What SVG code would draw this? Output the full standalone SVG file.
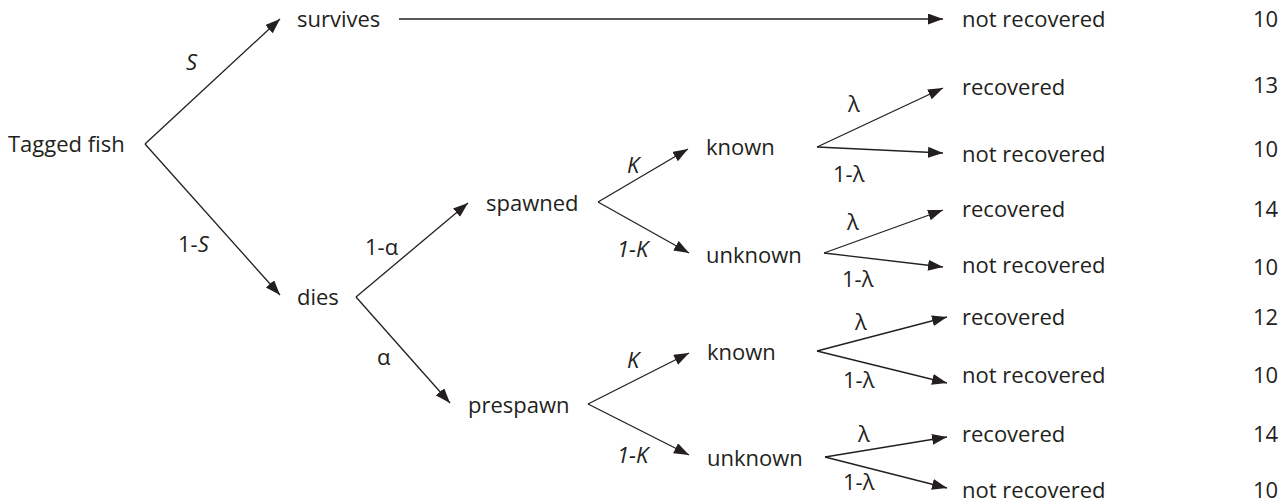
<svg xmlns="http://www.w3.org/2000/svg" width="1283" height="504" viewBox="0 0 1283 504">
<style>
text{font-family:"Open Sans","Noto Sans",sans-serif;font-size:22px;fill:#231f20}
.i{font-style:italic}
.c line{stroke:#231f20;stroke-width:1.3;fill:none}
.a{marker-end:url(#ah)}
</style>
<defs>
<marker id="ah" markerUnits="userSpaceOnUse" markerWidth="16" markerHeight="12" refX="15" refY="5.5" orient="auto">
<path d="M0,0 L15,5.5 L0,11 z" fill="#231f20"/>
</marker>
</defs>
<rect width="1283" height="504" fill="#fff"/>
<g class="c" id="connectors">
<line class="a" x1="145" y1="144" x2="280" y2="19"/>
<line class="a" x1="145" y1="144" x2="280" y2="295"/>
<line class="a" x1="399" y1="19" x2="943" y2="19"/>
<line class="a" x1="356" y1="297" x2="468" y2="203"/>
<line class="a" x1="356" y1="297" x2="450" y2="403"/>
<line class="a" x1="598" y1="202" x2="688" y2="149"/>
<line class="a" x1="598" y1="202" x2="689" y2="253"/>
<line class="a" x1="588" y1="404" x2="689" y2="353"/>
<line class="a" x1="588" y1="404" x2="689" y2="455"/>
<line class="a" x1="817" y1="147" x2="943" y2="88"/>
<line class="a" x1="817" y1="147" x2="943" y2="153"/>
<line class="a" x1="824" y1="253" x2="943" y2="210"/>
<line class="a" x1="824" y1="253" x2="943" y2="267"/>
<line class="a" x1="817" y1="351" x2="947" y2="317"/>
<line class="a" x1="817" y1="351" x2="947" y2="383"/>
<line class="a" x1="825" y1="457" x2="947" y2="437"/>
<line class="a" x1="825" y1="457" x2="947" y2="488"/>
</g>
<g id="edge-labels">
<text class="i" x="186" y="70">S</text>
<text x="178" y="252">1-<tspan class="i">S</tspan></text>
<text x="365" y="255">1-α</text>
<text x="377" y="365">α</text>
<text class="i" x="627" y="173">K</text>
<text class="i" x="617" y="257">1-K</text>
<text class="i" x="627" y="368">K</text>
<text class="i" x="617" y="463">1-K</text>
<text x="848" y="112">λ</text>
<text x="833" y="182">1-λ</text>
<text x="847" y="230">λ</text>
<text x="842" y="287">1-λ</text>
<text x="855" y="330">λ</text>
<text x="843" y="388">1-λ</text>
<text x="858" y="442">λ</text>
<text x="843" y="490">1-λ</text>
</g>
<g id="n-tagged"><text x="8" y="152">Tagged fish</text></g>
<g id="n-survives"><text x="297" y="27">survives</text></g>
<g id="n-dies"><text x="297" y="305">dies</text></g>
<g id="n-spawned"><text x="486" y="211">spawned</text></g>
<g id="n-prespawn"><text x="468" y="413">prespawn</text></g>
<g id="n-known1"><text x="706" y="155">known</text></g>
<g id="n-unknown1"><text x="706" y="263">unknown</text></g>
<g id="n-known2"><text x="707" y="360">known</text></g>
<g id="n-unknown2"><text x="707" y="466">unknown</text></g>
<g id="n-out0"><text x="962" y="27">not recovered</text><text x="1253" y="27">10</text></g>
<g id="n-out1"><text x="962" y="95">recovered</text><text x="1253" y="93">13</text></g>
<g id="n-out2"><text x="962" y="162">not recovered</text><text x="1253" y="157">10</text></g>
<g id="n-out3"><text x="962" y="217">recovered</text><text x="1253" y="217">14</text></g>
<g id="n-out4"><text x="962" y="273">not recovered</text><text x="1253" y="275">10</text></g>
<g id="n-out5"><text x="962" y="325">recovered</text><text x="1253" y="325">12</text></g>
<g id="n-out6"><text x="962" y="383">not recovered</text><text x="1253" y="383">10</text></g>
<g id="n-out7"><text x="962" y="442">recovered</text><text x="1253" y="442">14</text></g>
<g id="n-out8"><text x="962" y="498">not recovered</text><text x="1253" y="498">10</text></g>
</svg>
